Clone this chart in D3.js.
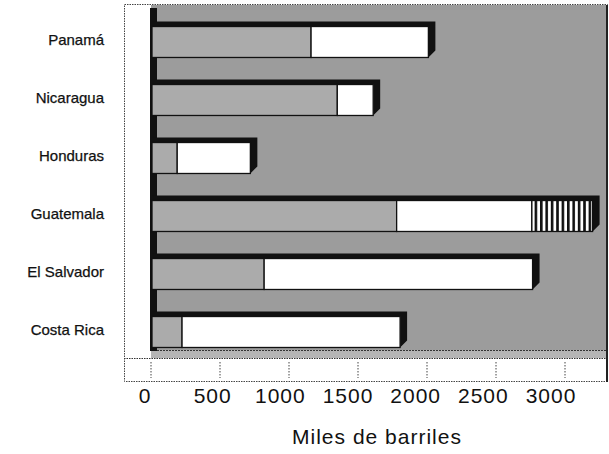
<!DOCTYPE html>
<html>
<head>
<meta charset="utf-8">
<script src="https://cdn.jsdelivr.net/npm/d3@7/dist/d3.min.js"></script>
<style>
  html, body { margin: 0; padding: 0; background: #fff; }
  text { font-family: "Liberation Sans", Arial, Helvetica, sans-serif; }
</style>
</head>
<body>
<svg id="chart" width="609" height="454"></svg>
<script>
// ---- data ----
const categories = ["Panamá", "Nicaragua", "Honduras", "Guatemala", "El Salvador", "Costa Rica"];
const serieGris    = [1160, 1350, 190, 1780, 820, 225];
const serieBlanca  = [850, 260, 530, 980, 1945, 1580];
const serieRayada  = [0, 0, 0, 440, 0, 0];
const tickValues   = [0, 500, 1000, 1500, 2000, 2500, 3000];
const tickLabels   = ["0", "500", "1000", "1500", "2000", "2500", "3000"];
const axisTitle    = "Miles de barriles";

// ---- layout ----
const FONT = "'Liberation Sans', Arial, Helvetica, sans-serif";
const svg = d3.select("#chart");
const x = d3.scaleLinear().domain([0, 3000]).range([151, 565]);
const xLabel = d3.scaleLinear().domain([0, 3000]).range([145, 551]);
const y = d3.scaleBand().domain(categories).range([13, 361]).paddingInner(0.466).paddingOuter(0.233);

const defs = svg.append("defs");
const pat = defs.append("pattern").attr("id", "hatch")
  .attr("patternUnits", "userSpaceOnUse").attr("width", 5.4).attr("height", 10);
pat.append("rect").attr("width", 5.4).attr("height", 10).attr("fill", "#fff");
pat.append("rect").attr("x", 0).attr("width", 2.6).attr("height", 10).attr("fill", "#111");

// plot frame
svg.append("rect").attr("x", 124.5).attr("y", 4.5).attr("width", 483).attr("height", 377)
  .attr("fill", "#fff").attr("stroke", "#444").attr("stroke-dasharray", "1.5,1");
// back wall
svg.append("rect").attr("x", 151).attr("y", 5).attr("width", 457).attr("height", 347).attr("fill", "#9c9c9c");
// floor perspective
svg.append("rect").attr("x", 151).attr("y", 350).attr("width", 457).attr("height", 8).attr("fill", "#b5b5b5");
svg.append("line").attr("x1", 151).attr("x2", 608).attr("y1", 350.5).attr("y2", 350.5)
  .attr("stroke", "#333").attr("stroke-dasharray", "2,1");
svg.append("line").attr("x1", 124).attr("x2", 608).attr("y1", 358.5).attr("y2", 358.5)
  .attr("stroke", "#333").attr("stroke-dasharray", "1.5,1");
// left wall edge
svg.append("rect").attr("x", 150).attr("y", 8).attr("width", 7).attr("height", 343).attr("fill", "#111");
// right edge
svg.append("line").attr("x1", 607).attr("x2", 607).attr("y1", 5).attr("y2", 382).attr("stroke", "#222").attr("stroke-width", 2);

// floor ticks
svg.append("g").selectAll("line").data(tickValues).join("line")
  .attr("x1", d => x(d)).attr("x2", d => x(d)).attr("y1", 362).attr("y2", 378)
  .attr("stroke", "#444").attr("stroke-dasharray", "1.5,1.5");

// bars
const dx = 7, dy = 5;
const rows = categories.map((c, i) => {
  const segs = [];
  let acc = 0;
  [[serieGris[i], "#ababab"], [serieBlanca[i], "#ffffff"], [serieRayada[i], "url(#hatch)"]].forEach(([v, f]) => {
    if (v > 0) { segs.push({ a: acc, b: acc + v, fill: f }); acc += v; }
  });
  return { c, total: acc, segs };
});

const g = svg.append("g");
rows.forEach(r => {
  const y0 = y(r.c), y1 = y0 + y.bandwidth();
  const x0 = x(0) + 1, x1 = x(r.total);
  g.append("polygon")
    .attr("points", [[x0, y0 - dy], [x1 + dx, y0 - dy], [x1 + dx, y1 - dy - 2], [x1, y1], [x1, y0], [x0, y0]].map(p => p.join(",")).join(" "))
    .attr("fill", "#111");
  r.segs.forEach(s => {
    g.append("rect")
      .attr("x", Math.max(x(s.a), x0)).attr("y", y0)
      .attr("width", x(s.b) - Math.max(x(s.a), x0)).attr("height", y.bandwidth())
      .attr("fill", s.fill).attr("stroke", "#111").attr("stroke-width", 1.3);
  });
});

// category labels
svg.append("g").selectAll("text").data(categories).join("text")
  .attr("x", 104).attr("y", d => y(d) + y.bandwidth() / 2 + 3)
  .attr("text-anchor", "end").attr("font-family", FONT).attr("font-size", 15)
  .attr("fill", "#111").attr("stroke", "#111").attr("stroke-width", 0.25).text(d => d);

// tick labels
svg.append("g").selectAll("text").data(tickValues).join("text")
  .attr("x", d => xLabel(d)).attr("y", 403)
  .attr("text-anchor", "middle").attr("font-family", FONT).attr("font-size", 21).attr("letter-spacing", 1)
  .attr("fill", "#111").text((d, i) => tickLabels[i]);

// axis title
svg.append("text").attr("x", 377).attr("y", 444).attr("text-anchor", "middle").attr("font-family", FONT)
  .attr("font-size", 21).attr("letter-spacing", 1).attr("fill", "#111").text(axisTitle);
</script>
</body>
</html>
